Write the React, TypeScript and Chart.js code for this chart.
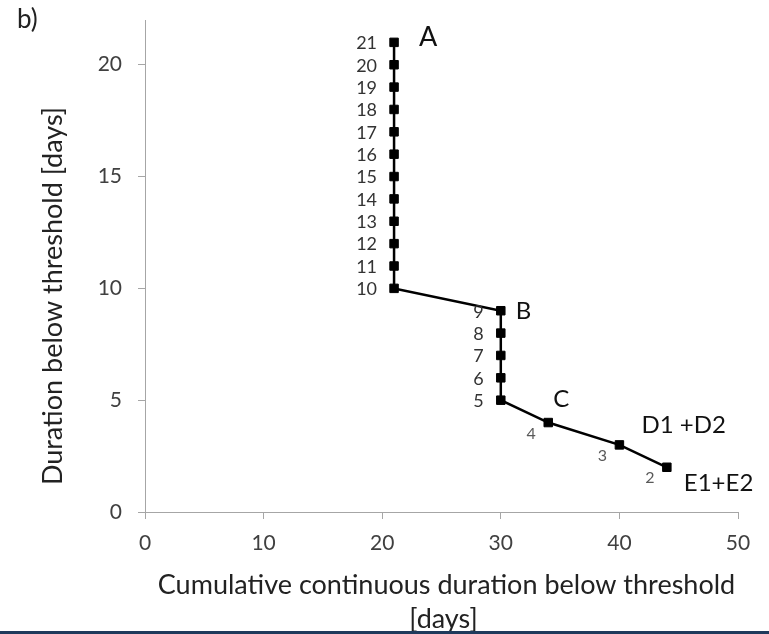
import React, { useEffect, useRef } from 'react';
import { Chart, registerables } from 'chart.js';

Chart.register(...registerables);

// ---- data ----
const xCumulative = [21, 21, 21, 21, 21, 21, 21, 21, 21, 21, 21, 21, 30, 30, 30, 30, 30, 34, 40, 44];
const yDuration = [21, 20, 19, 18, 17, 16, 15, 14, 13, 12, 11, 10, 9, 8, 7, 6, 5, 4, 3, 2];
const pointNumbers = ['21', '20', '19', '18', '17', '16', '15', '14', '13', '12', '11', '10', '9', '8', '7', '6', '5', '4', '3', '2'];
const groupLabels = ['A', 'B', 'C', 'D1 +D2', 'E1+E2'];
const groupX = [21, 30, 34, 40, 44];
const groupY = [21, 9, 4, 3, 2];
const xTicks = [0, 10, 20, 30, 40, 50];
const yTicks = [0, 5, 10, 15, 20];
const panelLabel = 'b)';
const xTitle = ['Cumulative continuous duration below threshold', '[days]'];
const yTitle = 'Duration below threshold [days]';

// ---- styles ----
const FONT = 'Lato, "Open Sans", sans-serif';
const groupLabelStyle = [
  { dx: 25, dy: -5, size: 27 },
  { dx: 15, dy: 1, size: 24 },
  { dx: 5, dy: -23, size: 24 },
  { dx: 22, dy: -20, size: 24 },
  { dx: 17, dy: 16, size: 24 },
];

const annotate = {
  id: 'annotate',
  afterDatasetsDraw(chart: any) {
    const { ctx, scales } = chart;
    const xs = scales.x;
    const ys = scales.y;
    ctx.save();
    ctx.textBaseline = 'middle';
    pointNumbers.forEach((t, i) => {
      const px = xs.getPixelForValue(xCumulative[i]);
      const py = ys.getPixelForValue(yDuration[i]);
      if (yDuration[i] < 5) {
        ctx.font = `16px ${FONT}`;
        ctx.fillStyle = '#595959';
        ctx.textAlign = 'center';
        ctx.fillText(t, px - 17, py + 11);
      } else {
        ctx.font = `18px ${FONT}`;
        ctx.fillStyle = '#333333';
        ctx.textAlign = 'right';
        ctx.fillText(t, px - 17, py + 1);
      }
    });
    groupLabels.forEach((t, i) => {
      const st = groupLabelStyle[i];
      const px = xs.getPixelForValue(groupX[i]);
      const py = ys.getPixelForValue(groupY[i]);
      ctx.font = `${st.size}px ${FONT}`;
      ctx.fillStyle = '#111111';
      ctx.textAlign = 'left';
      ctx.fillText(t, px + st.dx, py + st.dy);
    });
    ctx.restore();
  },
  afterDraw(chart: any) {
    const { ctx, chartArea } = chart;
    ctx.save();
    ctx.fillStyle = '#222222';
    ctx.textBaseline = 'middle';
    ctx.font = `26px ${FONT}`;
    ctx.textAlign = 'left';
    ctx.fillText(panelLabel, 17, 20);

    ctx.font = `27px ${FONT}`;
    ctx.textAlign = 'center';
    const cx = (chartArea.left + chartArea.right) / 2 + 5;
    ctx.fillText(xTitle[0], cx, 585);
    ctx.fillText(xTitle[1], cx - 3, 619);

    ctx.translate(53, 296);
    ctx.rotate(-Math.PI / 2);
    ctx.fillText(yTitle, 0, 0);
    ctx.restore();
  },
};

export default function App() {
  const ref = useRef<HTMLCanvasElement | null>(null);
  useEffect(() => {
    if (!ref.current) return;
    const axisColor = '#a6a6a6';
    const chart = new Chart(ref.current, {
      type: 'line',
      data: {
        datasets: [
          {
            data: xCumulative.map((x, i) => ({ x, y: yDuration[i] })),
            borderColor: '#000000',
            backgroundColor: '#000000',
            borderWidth: 2.5,
            pointStyle: 'rect',
            pointRadius: 6,
            pointBorderWidth: 1,
            pointBackgroundColor: '#000000',
            pointBorderColor: '#000000',
            tension: 0,
            fill: false,
          },
        ],
      },
      options: {
        animation: false,
        responsive: false,
        devicePixelRatio: 1,
        layout: { padding: { left: 0, right: 31, top: 20, bottom: 0 } },
        plugins: { legend: { display: false }, tooltip: { enabled: false }, title: { display: false } },
        scales: {
          x: {
            type: 'linear',
            min: xTicks[0],
            max: xTicks[xTicks.length - 1],
            afterBuildTicks: (axis: any) => {
              axis.ticks = xTicks.map((v) => ({ value: v }));
            },
            afterFit: (axis: any) => {
              axis.height = 122;
              axis.paddingLeft = 0;
              axis.paddingRight = 0;
            },
            grid: { drawOnChartArea: false, drawTicks: true, tickLength: 7, color: axisColor },
            border: { display: true, color: axisColor, width: 1 },
            ticks: { color: '#404040', font: { family: FONT, size: 21 }, padding: 12, maxRotation: 0 },
          },
          y: {
            type: 'linear',
            min: 0,
            max: 22,
            afterBuildTicks: (axis: any) => {
              axis.ticks = yTicks.map((v) => ({ value: v }));
            },
            afterFit: (axis: any) => {
              axis.width = 145;
              axis.paddingTop = 0;
              axis.paddingBottom = 0;
            },
            grid: { drawOnChartArea: false, drawTicks: true, tickLength: 7, color: axisColor },
            border: { display: true, color: axisColor, width: 1 },
            ticks: { color: '#404040', font: { family: FONT, size: 21 }, padding: 16 },
          },
        },
      },
      plugins: [annotate],
    });
    return () => chart.destroy();
  }, []);
  return (
    <div style={{ position: 'absolute', left: 0, top: 0, width: 769, height: 634, background: '#ffffff' }}>
      <canvas ref={ref} width={769} height={634} style={{ display: 'block', width: 769, height: 634 }} />
      <div style={{ position: 'absolute', left: 0, top: 631, width: 769, height: 3, background: '#1f3a5c' }} />
    </div>
  );
}
